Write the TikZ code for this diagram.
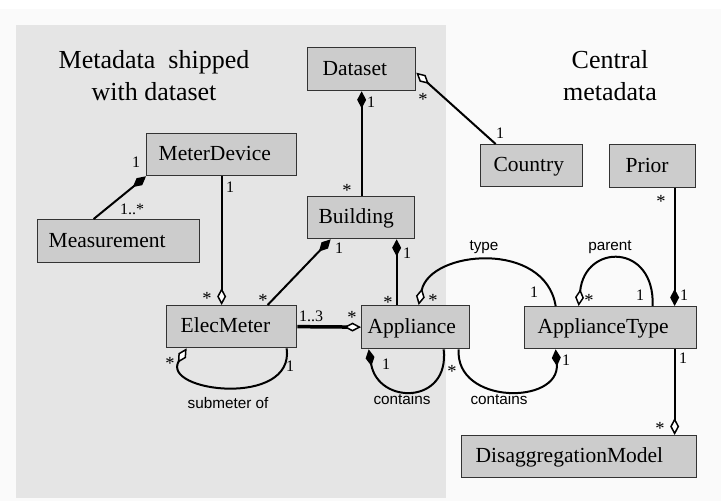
\documentclass[tikz,border=0pt]{standalone}
\usepackage{fontspec}
\setmainfont{Liberation Serif}
\newfontfamily\lblsans{Liberation Sans}
\usetikzlibrary{arrows.meta}
\definecolor{pagebg}{HTML}{FAFAFA}
\definecolor{shipbg}{HTML}{E5E5E5}
\definecolor{boxfill}{HTML}{CCCCCC}
\definecolor{boxline}{HTML}{333333}
\begin{document}
\begin{tikzpicture}[x=1pt,y=-1pt,
  cls/.style={draw=boxline, fill=boxfill, line width=1.3pt, anchor=north west, align=left,
    font=\fontsize{21.5}{24}\selectfont, text height=16pt, text depth=4pt, inner ysep=0pt},
  conn/.style={line width=2pt, draw=black},
  comp/.style={arrows={Diamond[length=17pt,width=9pt,line width=1.5pt]}-},
  compend/.style={arrows=-{Diamond[length=17pt,width=9pt,line width=1.5pt]}},
  aggr/.style={arrows={Diamond[length=17pt,width=9pt,line width=1.5pt,fill=white]}-},
  aggrend/.style={arrows=-{Diamond[length=17pt,width=9pt,line width=1.5pt,fill=white]}},
  lab/.style={inner sep=0pt, font=\fontsize{16}{18}\selectfont},
  star/.style={inner sep=0pt, font=\fontsize{18.5}{20}\selectfont, yshift=-3pt},
  rel/.style={inner sep=0pt, font=\lblsans\fontsize{15.3}{17}\selectfont},
  ttl/.style={inner sep=0pt, anchor=north, align=center, font=\fontsize{26}{32}\selectfont}
]
\useasboundingbox (0,0) rectangle (721,502);
\fill[pagebg] (0,9) rectangle (721,501);
\fill[shipbg] (16,25) rectangle (446,498);

\node[ttl] (ttlship) at (154,50) {Metadata\ \ shipped\\with dataset};
\node[ttl] (ttlcentral) at (610,50) {Central\\metadata};

\node[cls, inner xsep=15pt, text width=78pt, minimum height=43pt] (dataset) at (307,47) {Dataset};
\node[cls, inner xsep=13pt, text width=76pt, minimum height=42pt] (country) at (480,144) {Country};
\node[cls, inner xsep=16pt, text width=54pt, minimum height=43pt] (prior) at (609,144) {Prior};
\node[cls, inner xsep=12pt, text width=126pt, minimum height=42pt] (meter) at (146,133) {MeterDevice};
\node[cls, inner xsep=11pt, text width=140pt, minimum height=43pt] (measurement) at (37,219) {Measurement};
\node[cls, inner xsep=11pt, text width=85pt, minimum height=42pt] (building) at (307,196) {Building};
\node[cls, inner xsep=14pt, text width=102pt, minimum height=42pt] (elec) at (166,305) {ElecMeter};
\node[cls, inner xsep=6pt, text width=96pt, minimum height=43pt] (appliance) at (361,305) {Appliance};
\node[cls, inner xsep=13pt, text width=146pt, minimum height=42pt] (apptype) at (524,306) {ApplianceType};
\node[cls, inner xsep=14pt, text width=207pt, minimum height=42pt] (disagg) at (461,435) {DisaggregationModel};

% connectors
\draw[conn, comp] (dataset.south) -- (dataset.south |- building.north);
\draw[conn, aggr] ([yshift=-3.5pt]dataset.east) -- ([xshift=-36pt]country.north);
\draw[conn, aggrend] (meter.south) -- (meter.south |- elec.north);
\draw[conn, comp] (meter.south west) -- ([xshift=-25pt]measurement.north);
\draw[conn, comp] ([xshift=-30.5pt]building.south) -- ([xshift=36pt]elec.north);
\draw[conn, comp] ([xshift=35.5pt]building.south) -- ([xshift=35.5pt]building.south |- appliance.north);
\draw[line width=3.5pt, aggrend] (elec.east) -- (appliance.west);
\draw[conn, aggr] ([xshift=3pt]appliance.north) .. controls (430,250) and (545,240) .. ([xshift=-55pt]apptype.north);
\draw[conn, aggr] ([xshift=-32pt]apptype.north) .. controls (585,243) and (655,243) .. ([xshift=42pt]apptype.north);
\draw[conn, compend] ([xshift=22pt]prior.south) -- ([xshift=22pt]prior.south |- apptype.north);
\draw[conn, aggr] ([xshift=-45pt]elec.south) .. controls (160,392) and (295,408) .. ([xshift=55pt]elec.south);
\draw[conn, comp] ([xshift=-47pt]appliance.south) .. controls (378,405) and (450,405) .. ([xshift=28pt]appliance.south);
\draw[conn, compend] ([xshift=43pt]appliance.south) .. controls (455,405) and (560,405) .. ([xshift=-55pt]apptype.south);
\draw[conn, aggrend] ([xshift=64pt]apptype.south) -- ([xshift=64pt]apptype.south |- disagg.north);

% multiplicities
\node[lab] (m1) at (371,102) {1};
\node[star] (m2) at (423,96) {*};
\node[lab] (m3) at (500,133) {1};
\node[star] (m4) at (347,187) {*};
\node[lab] (m5) at (136,162) {1};
\node[lab] (m6) at (132,209) {1..*};
\node[lab] (m7) at (230,187) {1};
\node[star] (m8) at (207,295) {*};
\node[lab] (m9) at (339,248) {1};
\node[star] (m10) at (263,297) {*};
\node[lab] (m11) at (407,253) {1};
\node[star] (m12) at (388,299) {*};
\node[lab] (m13) at (311,316) {1..3};
\node[star] (m14) at (352,314) {*};
\node[star] (m15) at (433,297) {*};
\node[lab] (m16) at (534,292) {1};
\node[star] (m17) at (589,297) {*};
\node[lab] (m18) at (640,295) {1};
\node[star] (m19) at (661,198) {*};
\node[lab] (m20) at (684,295) {1};
\node[star] (m21) at (170,360) {*};
\node[lab] (m22) at (290,366) {1};
\node[lab] (m23) at (386,364) {1};
\node[star] (m24) at (452,368) {*};
\node[lab] (m25) at (566,360) {1};
\node[lab] (m26) at (683,358) {1};
\node[star] (m27) at (660,425) {*};

% relation names
\node[rel] (rtype) at (484,247) {type};
\node[rel] (rparent) at (610,247) {parent};
\node[rel] (rsub) at (228,403) {submeter of};
\node[rel] (rcont1) at (402,399) {contains};
\node[rel] (rcont2) at (499,399) {contains};
\end{tikzpicture}
\end{document}
